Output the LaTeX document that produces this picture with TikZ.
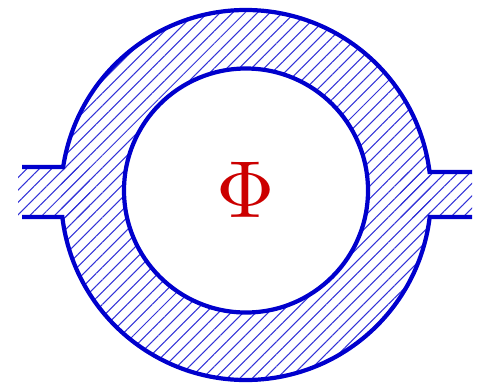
\documentclass[tikz,border=0pt]{standalone}
\usepackage{xcolor}
\usepackage{tikz}
\usetikzlibrary{patterns.meta}

\definecolor{ringblue}{RGB}{0,0,205}
\definecolor{fluxred}{RGB}{204,0,0}

\begin{document}
\begin{tikzpicture}[
			wall/.style={draw=ringblue, line width=2.4pt},
			hatch/.style={pattern={Lines[angle=45, distance=5pt, line width=0.6pt]}, pattern color=ringblue!80},
			]
			\useasboundingbox (0,0) rectangle (9.54,7.64);
			\coordinate (O) at (4.92,3.74);   % outer centre
			\coordinate (I) at (4.92,3.83);   % inner centre
			
			% ---- hatched ring with the two leads ----
			\fill[hatch] (O) circle (3.7);
			\fill[hatch] (0.36,3.30) rectangle (1.8,4.30);
			\fill[hatch] (8.0,3.30) rectangle (9.44,4.20);
			\fill[white] (I) circle (2.44);
			
			% ---- outlines ----
			\draw[wall] (0.44,4.30) -- ([shift={(171.29:3.7)}]O) arc (171.29:7.14:3.7) -- (9.44,4.20);
			\draw[wall] (0.44,3.30) -- ([shift={(186.83:3.7)}]O) arc (186.83:353.17:3.7) -- (9.44,3.30);
			\draw[wall] (I) circle (2.44);
			
			\node[text=fluxred] (phi) at (4.92,3.85) {\scalebox{4.6}{$\Phi$}};
			
		\end{tikzpicture}
\end{document}
